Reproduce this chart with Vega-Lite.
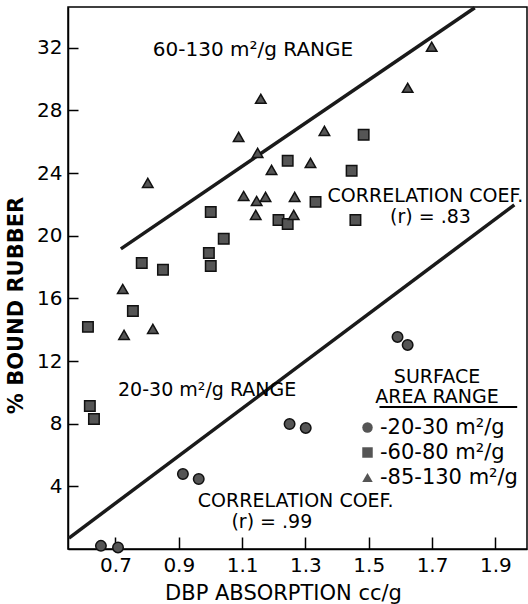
{
  "$schema": "https://vega.github.io/schema/vega-lite/v6.json",
  "width": 459,
  "height": 542,
  "autosize": {"type": "none"},
  "padding": {"left": 68, "top": 7, "right": 1, "bottom": 55},
  "background": "white",
  "config": {
    "font": "DejaVu Sans",
    "view": {"stroke": "black", "strokeWidth": 1.5},
    "axis": {"grid": false, "domainColor": "black", "domainWidth": 1.5, "tickColor": "black", "tickWidth": 1.5, "labelColor": "black", "titleColor": "black"}
  },
  "datasets": {
    "points": [
      {"range": "20-30", "dbp": 0.654, "bound": 0.2},
      {"range": "20-30", "dbp": 0.708, "bound": 0.1},
      {"range": "20-30", "dbp": 0.913, "bound": 4.79},
      {"range": "20-30", "dbp": 0.963, "bound": 4.47},
      {"range": "20-30", "dbp": 1.25, "bound": 7.98},
      {"range": "20-30", "dbp": 1.301, "bound": 7.73},
      {"range": "20-30", "dbp": 1.591, "bound": 13.54},
      {"range": "20-30", "dbp": 1.623, "bound": 13.03},
      {"range": "60-80", "dbp": 0.613, "bound": 14.18},
      {"range": "60-80", "dbp": 0.619, "bound": 9.13},
      {"range": "60-80", "dbp": 0.632, "bound": 8.3},
      {"range": "60-80", "dbp": 0.755, "bound": 15.2},
      {"range": "60-80", "dbp": 0.783, "bound": 18.26},
      {"range": "60-80", "dbp": 0.85, "bound": 17.82},
      {"range": "60-80", "dbp": 1.001, "bound": 21.52},
      {"range": "60-80", "dbp": 1.042, "bound": 19.8},
      {"range": "60-80", "dbp": 0.995, "bound": 18.9},
      {"range": "60-80", "dbp": 1.001, "bound": 18.07},
      {"range": "60-80", "dbp": 1.244, "bound": 24.78},
      {"range": "60-80", "dbp": 1.484, "bound": 26.44},
      {"range": "60-80", "dbp": 1.446, "bound": 24.14},
      {"range": "60-80", "dbp": 1.332, "bound": 22.16},
      {"range": "60-80", "dbp": 1.215, "bound": 21.01},
      {"range": "60-80", "dbp": 1.244, "bound": 20.75},
      {"range": "60-80", "dbp": 1.458, "bound": 21.01},
      {"range": "85-130", "dbp": 0.727, "bound": 13.67},
      {"range": "85-130", "dbp": 0.818, "bound": 14.05},
      {"range": "85-130", "dbp": 0.723, "bound": 16.6},
      {"range": "85-130", "dbp": 0.802, "bound": 23.37},
      {"range": "85-130", "dbp": 1.089, "bound": 26.31},
      {"range": "85-130", "dbp": 1.159, "bound": 28.74},
      {"range": "85-130", "dbp": 1.149, "bound": 25.29},
      {"range": "85-130", "dbp": 1.105, "bound": 22.54},
      {"range": "85-130", "dbp": 1.146, "bound": 22.22},
      {"range": "85-130", "dbp": 1.174, "bound": 22.48},
      {"range": "85-130", "dbp": 1.143, "bound": 21.33},
      {"range": "85-130", "dbp": 1.263, "bound": 21.33},
      {"range": "85-130", "dbp": 1.266, "bound": 22.48},
      {"range": "85-130", "dbp": 1.193, "bound": 24.2},
      {"range": "85-130", "dbp": 1.316, "bound": 24.65},
      {"range": "85-130", "dbp": 1.36, "bound": 26.69},
      {"range": "85-130", "dbp": 1.623, "bound": 29.44},
      {"range": "85-130", "dbp": 1.699, "bound": 32.06}
    ],
    "fits": [
      {"fit": "60-130", "dbp": 0.717, "bound": 19.16},
      {"fit": "60-130", "dbp": 1.835, "bound": 34.55},
      {"fit": "20-30", "dbp": 0.553, "bound": 0.7},
      {"fit": "20-30", "dbp": 1.96, "bound": 21.97}
    ]
  },
  "layer": [
    {
      "data": {"name": "fits"},
      "mark": {"type": "line", "color": "#1a1a1a", "strokeWidth": 3.5},
      "encoding": {
        "x": {"field": "dbp", "type": "quantitative", "scale": {"domain": [0.55, 2.0], "nice": false, "zero": false},
          "axis": {"title": "DBP ABSORPTION cc/g", "values": [0.7, 0.9, 1.1, 1.3, 1.5, 1.7, 1.9], "format": ".1f", "tickSize": -12, "labelFontSize": 20, "labelPadding": 18, "titleFontSize": 21, "titleFontWeight": "normal", "titleX": 215, "titleY": 50, "titleBaseline": "alphabetic"}},
        "y": {"field": "bound", "type": "quantitative", "scale": {"domain": [0, 34.6], "nice": false},
          "axis": {"title": "% BOUND RUBBER", "values": [4, 8, 12, 16, 20, 24, 28, 32], "tickSize": -10, "labelFontSize": 20, "labelPadding": 16, "titleFontSize": 21, "titleFontWeight": "bold", "titleX": -52, "titleY": 298, "titleBaseline": "middle"}},
        "detail": {"field": "fit", "type": "nominal"}
      }
    },
    {
      "data": {"name": "points"},
      "mark": {"type": "point", "filled": true, "size": 110, "color": "#555", "fill": "#555", "stroke": "#111", "strokeWidth": 1.5, "opacity": 1},
      "encoding": {
        "x": {"field": "dbp", "type": "quantitative"},
        "y": {"field": "bound", "type": "quantitative"},
        "shape": {"field": "range", "type": "nominal",
          "scale": {"domain": ["20-30", "60-80", "85-130"], "range": ["circle", "square", "triangle-up"]},
          "legend": {"title": ["SURFACE", "AREA RANGE"], "orient": "none", "legendX": 289, "legendY": 361, "padding": 0,
            "titleFontSize": 19, "titleFontWeight": "normal", "titleColor": "black", "titleAlign": "center", "titleAnchor": "middle", "titleLineHeight": 20, "titlePadding": 10,
            "labelFontSize": 21, "labelColor": "black", "labelOffset": 2, "labelLimit": 300, "labelExpr": "'-' + datum.label + ' m²/g'",
            "symbolSize": 110, "symbolFillColor": "#555", "symbolStrokeColor": "#111", "symbolStrokeWidth": 1.5, "rowPadding": 3}}
      }
    },
    {
      "data": {"values": [{}]},
      "mark": {"type": "rule", "color": "black", "strokeWidth": 2},
      "encoding": {"x": {"datum": 1.534}, "x2": {"datum": 1.969}, "y": {"datum": 9.07}}
    },
    {
      "data": {"values": [{}]},
      "mark": {"type": "text", "text": "60-130 m²/g RANGE", "align": "left", "baseline": "middle", "fontSize": 20, "color": "black"},
      "encoding": {"x": {"datum": 0.818}, "y": {"datum": 31.87}}
    },
    {
      "data": {"values": [{}]},
      "mark": {"type": "text", "text": "CORRELATION COEF.", "align": "left", "baseline": "middle", "fontSize": 19, "color": "black"},
      "encoding": {"x": {"datum": 1.37}, "y": {"datum": 22.54}}
    },
    {
      "data": {"values": [{}]},
      "mark": {"type": "text", "text": "(r) = .83", "align": "center", "baseline": "middle", "fontSize": 19, "color": "black"},
      "encoding": {"x": {"datum": 1.695}, "y": {"datum": 21.2}}
    },
    {
      "data": {"values": [{}]},
      "mark": {"type": "text", "text": "20-30 m²/g RANGE", "align": "left", "baseline": "middle", "fontSize": 19, "color": "black"},
      "encoding": {"x": {"datum": 0.708}, "y": {"datum": 10.15}}
    },
    {
      "data": {"values": [{}]},
      "mark": {"type": "text", "text": "CORRELATION COEF.", "align": "left", "baseline": "middle", "fontSize": 19, "color": "black"},
      "encoding": {"x": {"datum": 0.96}, "y": {"datum": 3.05}}
    },
    {
      "data": {"values": [{}]},
      "mark": {"type": "text", "text": "(r) = .99", "align": "center", "baseline": "middle", "fontSize": 19, "color": "black"},
      "encoding": {"x": {"datum": 1.194}, "y": {"datum": 1.7}}
    }
  ]
}
